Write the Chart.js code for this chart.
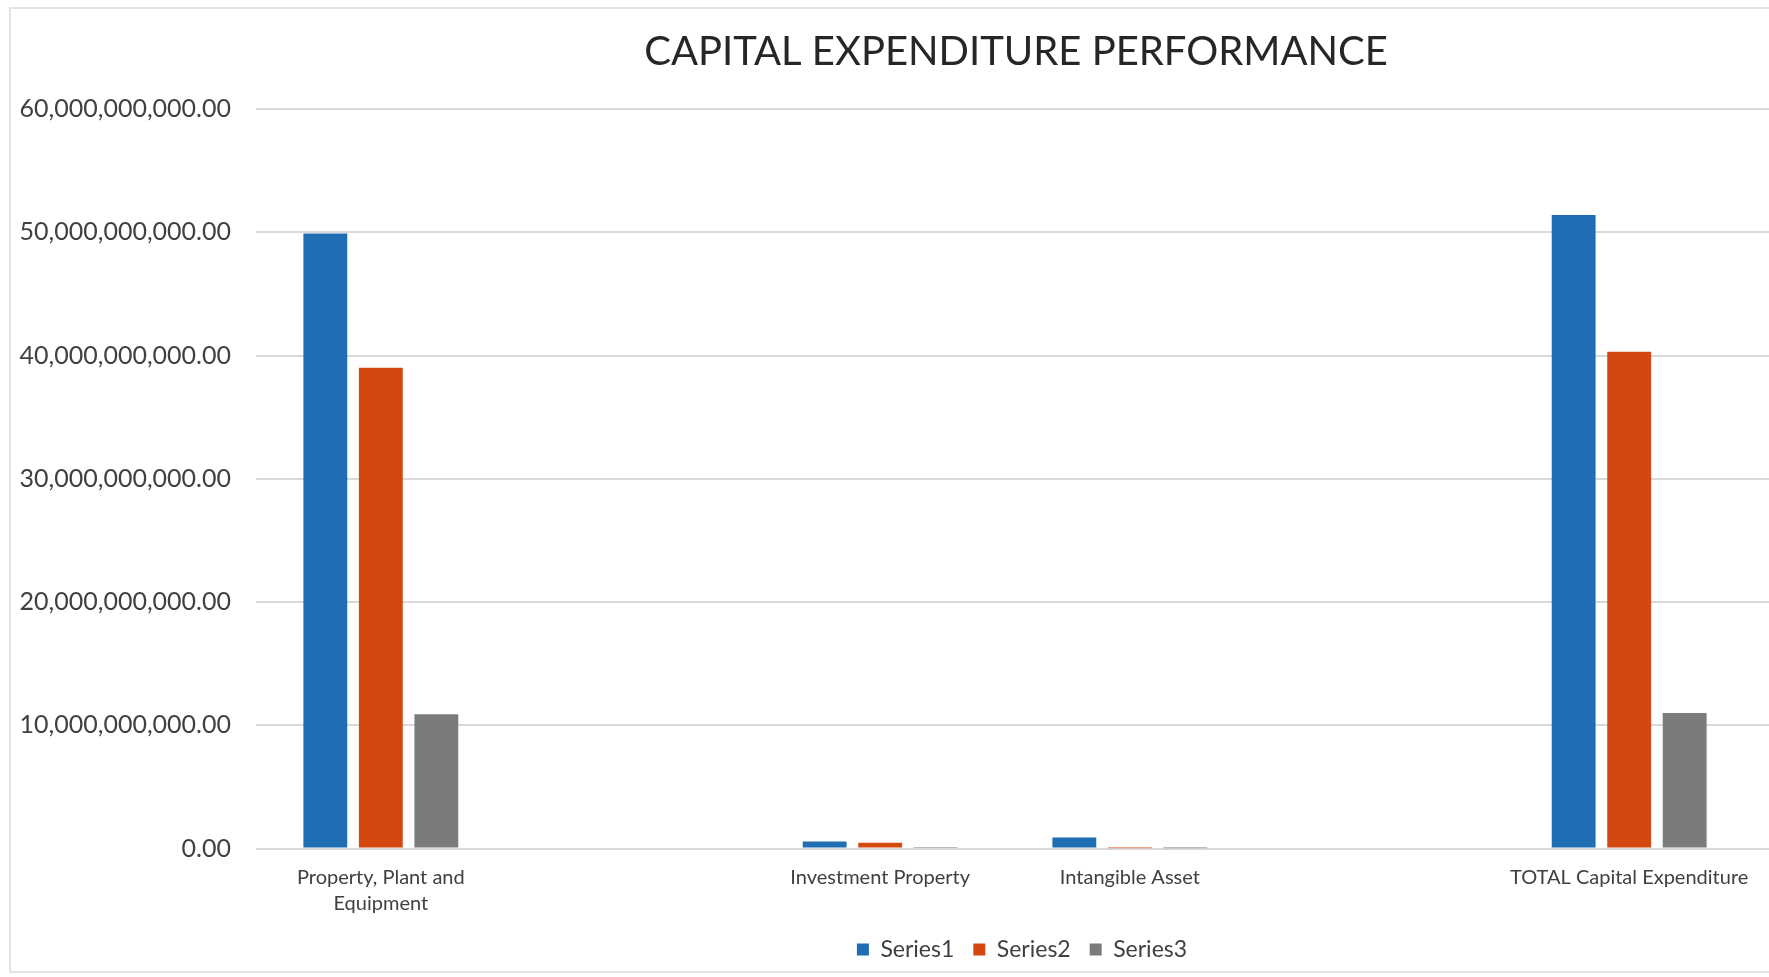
<!DOCTYPE html>
<html>
<head>
<meta charset="utf-8">
<title>Capital Expenditure Performance</title>
<script src="https://cdn.jsdelivr.net/npm/chart.js@4.4.1/dist/chart.umd.min.js"></script>
<style>
  html, body { margin: 0; padding: 0; background: #fff; overflow: hidden; }
  body { width: 1769px; height: 977px; position: relative; }
  #frame {
    position: absolute; left: 9px; top: 7px;
    width: 1760px; height: 962px;
    border: 2px solid #e3e3e3;
    background: #fff;
  }
</style>
</head>
<body>
<div id="frame"><canvas id="capexChart"></canvas></div>
<script>
// categories (blank slots keep the spacing of the original sheet)
const categories = [['Property, Plant and', 'Equipment'], '', 'Investment Property', 'Intangible Asset', '', 'TOTAL Capital Expenditure'];
const seriesNames = ['Series1', 'Series2', 'Series3'];
const series1 = [49900000000, null, 570000000, 890000000, null, 51400000000];
const series2 = [39000000000, null, 460000000, 30000000, null, 40300000000];
const series3 = [10900000000, null, 50000000, 20000000, null, 11000000000];
const yTicks = [0, 10000000000, 20000000000, 30000000000, 40000000000, 50000000000, 60000000000];

const colors = ['#1f6db3', '#d2480f', '#7b7b7b'];
const font = 'Lato, "Open Sans", sans-serif';

// y gridlines keep running to the right edge past the plot area
const gridTail = {
  id: 'gridTail',
  beforeDatasetsDraw(chart) {
    const { ctx, chartArea, scales } = chart;
    ctx.save();
    ctx.strokeStyle = '#d9d9d9';
    ctx.lineWidth = 2;
    scales.y.ticks.forEach(t => {
      const y = Math.round(scales.y.getPixelForValue(t.value));
      ctx.beginPath();
      ctx.moveTo(chartArea.right, y);
      ctx.lineTo(chart.width, y);
      ctx.stroke();
    });
    ctx.restore();
  }
};

// title and legend sit a little right of the plot centre
const nudge = {
  id: 'nudge',
  afterLayout(chart) {
    const shift = (box, dx) => { box.left += dx; box.right += dx; };
    shift(chart.titleBlock, 11);
    shift(chart.legend, 17);
  }
};

const ctx = document.getElementById('capexChart').getContext('2d');
const chart = new Chart(ctx, {
  type: 'bar',
  data: {
    labels: categories,
    datasets: [series1, series2, series3].map((d, i) => ({
      label: seriesNames[i],
      data: d,
      backgroundColor: colors[i],
      categoryPercentage: 0.667,
      barPercentage: 0.79
    }))
  },
  options: {
    responsive: true,
    maintainAspectRatio: false,
    animation: false,
    layout: { padding: { left: 0, right: 17, top: 0, bottom: 0 } },
    plugins: {
      title: {
        display: true,
        text: 'CAPITAL EXPENDITURE PERFORMANCE',
        fullSize: false,
        color: '#262626',
        font: { family: font, size: 40, weight: 'normal' },
        padding: { top: 19, bottom: 33 }
      },
      legend: {
        position: 'bottom',
        fullSize: false,
        labels: {
          color: '#404040',
          font: { family: font, size: 23 },
          boxWidth: 12,
          boxHeight: 12,
          padding: 19
        }
      },
      tooltip: { enabled: false }
    },
    scales: {
      x: {
        grid: { display: false, drawTicks: false },
        border: { display: false },
        ticks: {
          color: '#404040',
          font: { family: font, size: 20, lineHeight: 1.3 },
          padding: 16,
          maxRotation: 0,
          autoSkip: false
        },
        afterFit(scale) { scale.height = 70.5; }
      },
      y: {
        min: 0,
        max: 60000000000,
        afterBuildTicks(scale) { scale.ticks = yTicks.map(v => ({ value: v })); },
        grid: { color: '#d9d9d9', lineWidth: 2, drawTicks: false },
        border: { display: false },
        ticks: {
          color: '#404040',
          font: { family: font, size: 25 },
          padding: 25,
          callback: v => v.toLocaleString('en-US', { minimumFractionDigits: 2, maximumFractionDigits: 2 })
        },
        afterFit(scale) { scale.width = 245; }
      }
    }
  },
  plugins: [gridTail, nudge]
});
</script>
</body>
</html>
